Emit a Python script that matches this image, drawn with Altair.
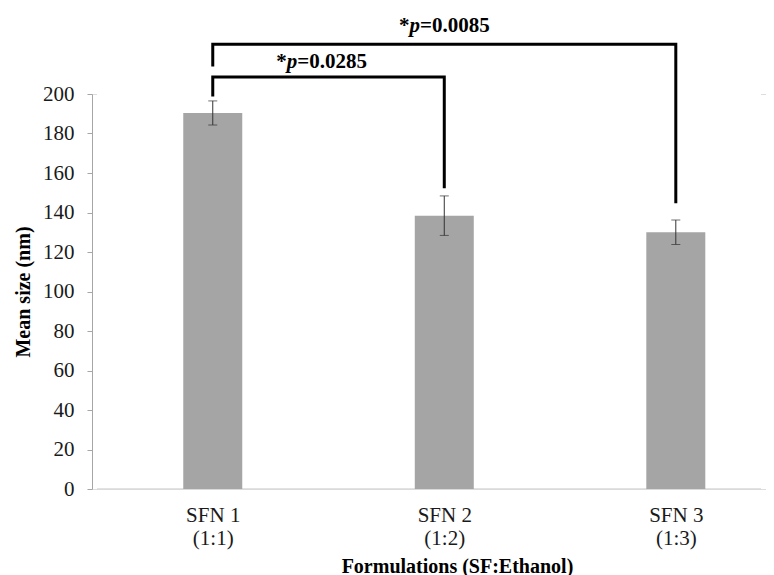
import json
import altair as alt
import pandas as pd

# ---- data ----
categories = ["SFN 1", "SFN 2", "SFN 3"]
ratios = ["(1:1)", "(1:2)", "(1:3)"]
positions = [1, 2, 3]
mean_size = [190.4, 138.4, 130.0]
sd = [6.1, 10.0, 6.2]
y_ticks = [0, 20, 40, 60, 80, 100, 120, 140, 160, 180, 200]
x_extent = [0.5, 3.368]
y_extent = [0, 200]

# significance brackets
br_from = [1, 1]
br_to = [2, 3]
br_top = [208.6, 225.2]
br_left_end = [199.5, 214.7]
br_right_end = [153.1, 145.5]
br_text_x = [1.47, 2.0]
br_text_y = [213.2, 231.4]
p_values = ["0.0285", "0.0085"]

bars = pd.DataFrame({
    "pos": positions,
    "cat": categories,
    "mean": mean_size,
    "lo": [m - s for m, s in zip(mean_size, sd)],
    "hi": [m + s for m, s in zip(mean_size, sd)],
})

rows = []
for i in range(len(br_from)):
    pts = [(br_from[i], br_left_end[i]), (br_from[i], br_top[i]),
           (br_to[i], br_top[i]), (br_to[i], br_right_end[i])]
    for k, (x, y) in enumerate(pts):
        rows.append({"g": i, "o": k, "x": x, "y": y})
br_df = pd.DataFrame(rows)

ann = pd.DataFrame({
    "x": br_text_x,
    "y": br_text_y,
    "star": ["*"] * len(p_values),
    "p": ["p"] * len(p_values),
    "rest": ["=" + v for v in p_values],
})

edges = pd.DataFrame({
    "x0": [x_extent[0], x_extent[0]],
    "x1": [x_extent[1], x_extent[1]],
    "y": y_extent,
    "c": ["#d9d9d9", "#ffffff"],
    "w": [1.5, 2.5],
})

FONT = "Liberation Serif"
xs = alt.Scale(domain=x_extent, nice=False, zero=False)
ys = alt.Scale(domain=y_extent, nice=False)

label_items = [f"{c}|{r}" for c, r in zip(categories, ratios)]
label_expr = f"split({json.dumps(label_items)}[datum.value - 1], '|')"

x_axis = alt.Axis(
    values=positions, labelExpr=label_expr, ticks=False, tickSize=0,
    grid=False, domain=False,
    labelFont=FONT, labelFontSize=21, labelColor="#1a1a1a",
    labelPadding=15, labelLineHeight=23, labelOverlap=False,
    title="Formulations (SF:Ethanol)", titleFont=FONT, titleFontSize=20,
    titleFontWeight="bold", titleColor="#000000", titlePadding=8,
    titleX=365,
)
y_axis = alt.Axis(
    values=y_ticks, grid=False, labelOverlap=False,
    domainColor="#a6a6a6", tickColor="#a6a6a6", tickSize=5,
    labelFont=FONT, labelFontSize=21, labelColor="#1a1a1a", labelPadding=13,
    title="Mean size (nm)", titleFont=FONT, titleFontSize=20,
    titleFontWeight="bold", titleColor="#000000", titlePadding=9,
)


def X(field):
    return alt.X(field, scale=xs, axis=x_axis)


def Y(field):
    return alt.Y(field, scale=ys, axis=y_axis)


edge_layer = alt.Chart(edges).mark_rule().encode(
    x=X("x0:Q"), x2="x1:Q", y=Y("y:Q"),
    color=alt.Color("c:N", scale=None),
    strokeWidth=alt.StrokeWidth("w:Q", scale=None),
)

bar_layer = alt.Chart(bars).mark_bar(color="#a5a5a5", size=59).encode(
    x=X("pos:Q"), y=Y("mean:Q"),
)

err_layer = alt.Chart(bars).mark_errorbar(
    ticks={"size": 9, "thickness": 1}, color="#333333", thickness=1
).encode(
    x=X("pos:Q"), y=Y("lo:Q"), y2="hi:Q",
)

br_layer = alt.Chart(br_df).mark_line(
    color="#000000", strokeWidth=3, strokeJoin="miter", strokeCap="square"
).encode(
    x=X("x:Q"), y=Y("y:Q"), detail="g:N", order="o:Q",
)

fs = 21
total = fs * 0.5 + fs * 0.5 + fs * 3.32
d1 = -total / 2 + fs * 0.5
d3 = -total / 2 + fs * 1.0

txt_common = dict(font=FONT, fontSize=fs, fontWeight="bold", color="#000000",
                  baseline="alphabetic")
star_layer = alt.Chart(ann).mark_text(align="right", dx=d1, **txt_common).encode(
    x=X("x:Q"), y=Y("y:Q"), text="star:N")
p_layer = alt.Chart(ann).mark_text(align="left", dx=d1, fontStyle="italic",
                                   **txt_common).encode(
    x=X("x:Q"), y=Y("y:Q"), text="p:N")
rest_layer = alt.Chart(ann).mark_text(align="left", dx=d3, **txt_common).encode(
    x=X("x:Q"), y=Y("y:Q"), text="rest:N")

chart = alt.layer(
    edge_layer, bar_layer, err_layer, br_layer, star_layer, p_layer, rest_layer
).properties(
    width=674, height=395,
    autosize=alt.AutoSizeParams(type="none"),
    padding={"left": 84, "top": 86, "right": 0, "bottom": 86},
).configure_view(
    strokeWidth=0, stroke="transparent"
).configure(background="#ffffff", font=FONT)

chart.save("out.html", embed_options={"renderer": "svg", "actions": False})
